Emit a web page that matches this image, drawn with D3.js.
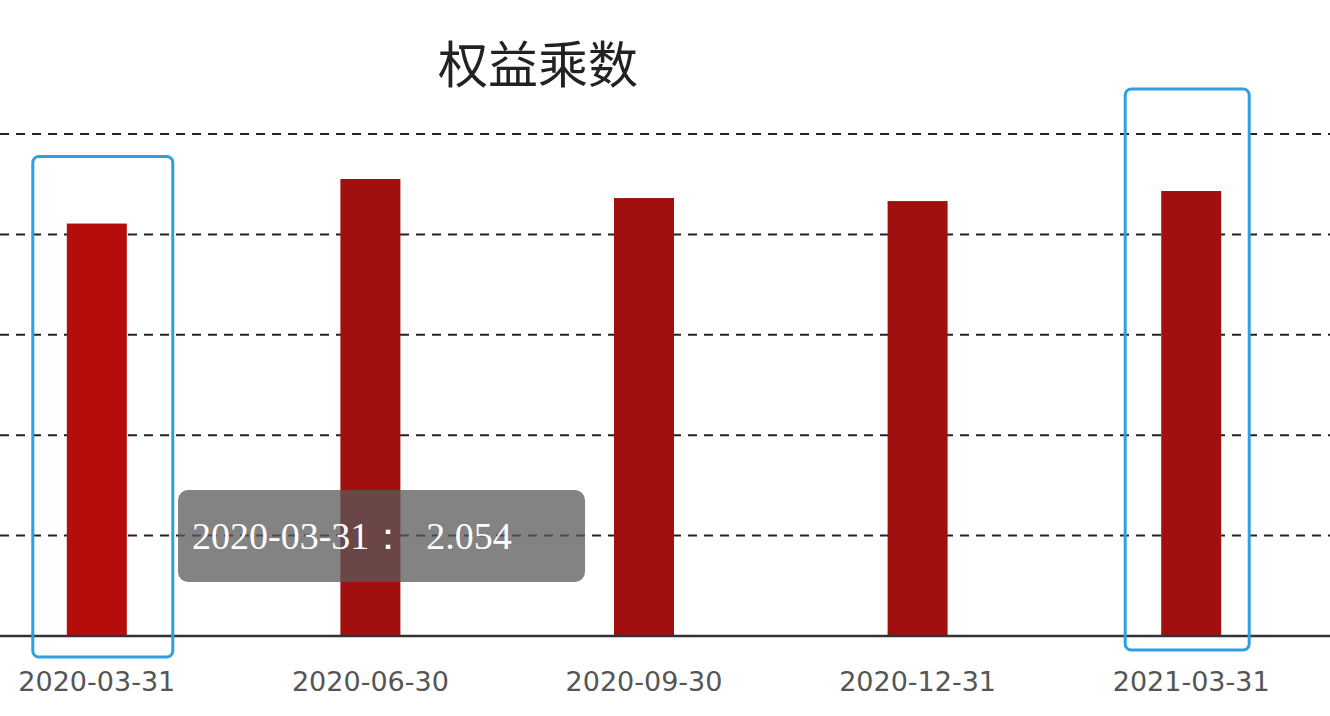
<!DOCTYPE html><html><head><meta charset="utf-8">
<script src="https://cdn.jsdelivr.net/npm/d3@7"></script>
<style>body{margin:0;background:#fff}</style></head><body>
<svg id="c" width="1330" height="716"></svg>
<script>
const categories=["2020-03-31","2020-06-30","2020-09-30","2020-12-31","2021-03-31"];
const values=[2.054,2.276,2.181,2.166,2.216];
const yTicks=[0,0.5,1,1.5,2,2.5];
const title="权益乘数";
const tooltipText="2020-03-31：  2.054";
const svg=d3.select("#c");
const x=d3.scaleBand().domain(categories).range([-40,1328]).paddingInner(0).paddingOuter(0);
const y=d3.scaleLinear().domain([0,2.5]).range([636,134]);
svg.selectAll("line.g").data(yTicks.slice(1)).join("line")
 .attr("x1",0).attr("x2",1330).attr("y1",d=>y(d)).attr("y2",d=>y(d))
 .attr("stroke","#222").attr("stroke-width",2).attr("stroke-dasharray","9,7");
const bw=60;
svg.selectAll("rect.b").data(values).join("rect")
 .attr("x",(d,i)=>x(categories[i])+x.bandwidth()/2-bw/2).attr("width",bw)
 .attr("y",d=>y(d)).attr("height",d=>y(0)-y(d))
 .attr("fill",(d,i)=>i==0?"#b50c0c":"#a10f0f");
svg.append("line").attr("x1",0).attr("x2",1330).attr("y1",y(0)).attr("y2",y(0)).attr("stroke","#333").attr("stroke-width",2.5);
svg.selectAll("text.t").data(categories).join("text")
 .attr("x",d=>x(d)+x.bandwidth()/2).attr("y",691).attr("text-anchor","middle")
 .attr("font-family","DejaVu Sans, sans-serif").attr("font-size",27).attr("fill","#555").text(d=>d);
// highlight boxes
const hl=[0,4];
svg.selectAll("rect.h").data(hl).join("rect")
 .attr("x",i=>x(categories[i])+x.bandwidth()/2-(i==0?64:66)).attr("width",i=>i==0?140:124)
 .attr("y",i=>y(values[i])-(i==0?67:102)).attr("height",i=>y(0)-y(values[i])+(i==0?88:116))
 .attr("rx",6).attr("fill","none").attr("stroke","#2e9fe0").attr("stroke-width",3);
svg.append("text").attr("x",538).attr("y",83).attr("text-anchor","middle")
 .attr("font-family","Noto Sans CJK SC").attr("font-size",50).attr("fill","#222").text(title);
svg.append("rect").attr("x",178).attr("y",490).attr("width",407).attr("height",92).attr("rx",10)
 .attr("fill","rgba(90,90,90,0.75)");
svg.append("text").attr("x",192).attr("y",549).attr("font-family","Liberation Serif, serif")
 .attr("font-size",38).attr("fill","#fff").attr("xml:space","preserve").style("white-space","pre").text(tooltipText);
</script></body></html>
